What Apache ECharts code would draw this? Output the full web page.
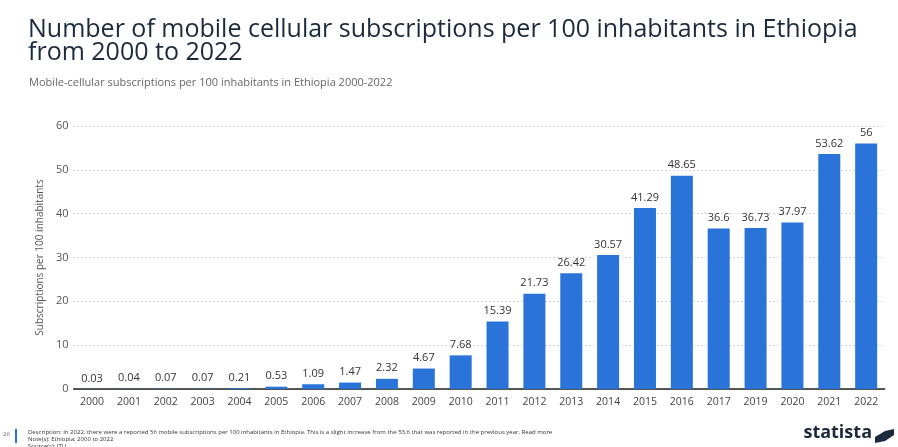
<!DOCTYPE html>
<html><head><meta charset="utf-8">
<script src="https://cdn.jsdelivr.net/npm/echarts@6/dist/echarts.min.js"></script>
<style>html,body{margin:0;padding:0;background:#fff;}#c{width:898px;height:447px;}</style>
</head><body><div id="c"></div>
<script>
const categories = ['2000','2001','2002','2003','2004','2005','2006','2007','2008','2009','2010','2011','2012','2013','2014','2015','2016','2017','2019','2020','2021','2022'];
const values = [0.03,0.04,0.07,0.07,0.21,0.53,1.09,1.47,2.32,4.67,7.68,15.39,21.73,26.42,30.57,41.29,48.65,36.6,36.73,37.97,53.62,56];
const yTicks = [0,10,20,30,40,50,60];

const chart = echarts.init(document.getElementById('c'));
chart.setOption({
  animation:false,
  title:[
    {text:'Number of mobile cellular subscriptions per 100 inhabitants in Ethiopia\nfrom 2000 to 2022', left:23, top:13,
     textStyle:{fontFamily:'Open Sans', fontSize:25, fontWeight:'normal', color:'#1b2a3d', lineHeight:23}},
    {text:'Mobile-cellular subscriptions per 100 inhabitants in Ethiopia 2000-2022', left:24, top:72,
     textStyle:{fontFamily:'Open Sans', fontSize:11, fontWeight:'normal', color:'#666'}}
  ],
  graphic:[
    {type:'rect', left:15, top:429, shape:{width:2,height:14}, style:{fill:'#2a74d9'}},
    {type:'text', left:3, top:431, style:{text:'26', font:'6px Open Sans', fill:'#666'}},
    {type:'text', left:28, top:429, style:{text:'Description: In 2022, there were a reported 56 mobile subscriptions per 100 inhabitants in Ethiopia. This is a slight increase from the 53.6 that was reported in the previous year. Read more\nNote(s): Ethiopia; 2000 to 2022\nSource(s): ITU', font:'6px Open Sans', fill:'#333', lineHeight:7}},
    {type:'text', right:26, top:424, style:{text:'statista', font:'bold 18px Open Sans', fill:'#1b2a3d'}},
    {type:'polygon', right:4, top:429, shape:{points:[[0,14],[0,8],[10,2],[19,0],[19,6],[10,12]]}, style:{fill:'#1b2a3d'}}
  ],
  grid:{left:73.6, right:13.4, top:126, bottom:58, containLabel:false},
  xAxis:{type:'category', data:categories,
    axisLine:{lineStyle:{color:'#222', width:1.5}}, axisTick:{show:false},
    axisLabel:{color:'#444', fontFamily:'Open Sans', fontSize:10.5, margin:8, interval:0}},
  yAxis:{type:'value', min:0, max:60, interval:10,
    name:'Subscriptions per 100 inhabitants', nameLocation:'middle', nameGap:20,
    nameTextStyle:{color:'#555', fontFamily:'Open Sans', fontSize:10},
    splitLine:{lineStyle:{color:'#aaa', type:[1,3]}},
    axisLabel:{color:'#555', fontFamily:'Open Sans', fontSize:11, margin:5,
      formatter:v=>yTicks.includes(v)?String(v):''}},
  series:[{type:'bar', data:values, barWidth:22,
    itemStyle:{color:'#2a74d9'},
    label:{show:true, position:'top', color:'#333', fontFamily:'Open Sans', fontSize:11, distance:5}}]
});
</script></body></html>
